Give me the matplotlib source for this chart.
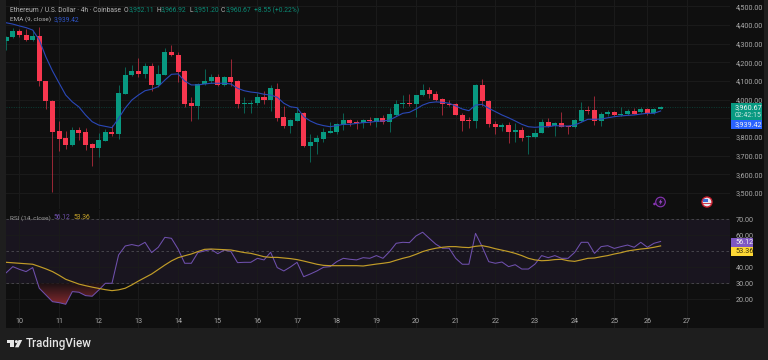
import numpy as np
import matplotlib
matplotlib.use("Agg")
import matplotlib.pyplot as plt
from matplotlib.patches import Rectangle, Circle, Polygon, PathPatch
from matplotlib.colors import LinearSegmentedColormap

opens = [4313,4337,4368,4346,4320,4341,4100,3993,3832,3795,3757,3838,3825,3761,3743,3780,3827,3816,4032,4132,
         4154,4138,4180,4079,4134,4254,4239,4154,3981,3968,4084,4100,4122,4079,4122,4100,3977,3977,3981,4014,
         3998,4059,3907,3861,3887,3930,3750,3775,3791,3822,3827,3864,3891,3880,3873,3891,3882,3902,3882,3918,
         3977,3984,3977,4023,4052,4032,4002,3978,3977,3920,3891,3886,4079,3991,3870,3854,3866,3825,3838,3802,
         3800,3822,3879,3859,3877,3859,3852,3886,3946,3945,3886,3922,3934,3918,3923,3938,3934,3950,3927,3952.11]
highs = [4341,4382,4381,4379,4373,4388,4100,3998,3886,3834,3855,3854,3848,3768,3822,3841,3864,4079,4177,4186,
         4222,4198,4197,4186,4275,4293,4257,4159,4013,4088,4163,4138,4138,4127,4216,4105,4013,3998,4034,4047,
         4079,4088,3966,3896,3959,3936,3816,3811,3848,3882,3877,3930,3895,3891,3895,3909,3902,3918,3954,3998,
         4025,4030,4027,4084,4066,4047,4007,3998,3981,3927,3906,4084,4111,3998,3887,3877,3879,3877,3852,3811,
         3845,3895,3903,3882,3934,3861,3895,3986,3966,4020,3936,3943,3939,3959,3948,3954,3959,3957,3957,3966.92]
lows = [4266,4330,4337,4316,4314,4073,3952,3507,3727,3734,3753,3784,3731,3646,3695,3779,3807,3791,4029,4127,
        4120,4116,4048,4066,4132,4234,4096,3959,3887,3896,4077,4089,4075,4073,4073,3955,3930,3929,3971,3975,
        3939,3887,3850,3823,3884,3748,3668,3709,3773,3820,3816,3838,3859,3845,3848,3863,3852,3871,3827,3914,
        3954,3966,3906,4021,4009,3995,3920,3968,3916,3834,3848,3848,3966,3855,3818,3832,3770,3775,3780,3707,
        3793,3820,3855,3807,3852,3816,3847,3882,3923,3864,3861,3914,3913,3914,3920,3923,3930,3918,3923,3951.20]
closes = [4337,4368,4345,4320,4341,4100,3993,3828,3789,3757,3838,3821,3757,3743,3784,3827,3816,4034,4132,4154,
          4138,4180,4079,4138,4254,4239,4150,3977,3968,4084,4100,4123,4079,4122,4096,3977,3984,3984,4014,3998,
          4063,3903,3861,3891,3930,3750,3775,3795,3827,3832,3870,3890,3877,3873,3891,3886,3902,3882,3922,3977,
          3984,3977,4025,4052,4030,3998,3975,3973,3920,3886,3884,4079,3991,3870,3854,3864,3825,3838,3796,3805,
          3823,3879,3859,3877,3852,3854,3890,3945,3941,3886,3923,3934,3918,3925,3938,3925,3950,3927,3948,3960.67]
ema = [4412,4405,4395,4386,4373,4320,4229,4154,4089,4025,3988,3961,3918,3882,3864,3857,3850,3900,3955,3998,
       4025,4048,4056,4070,4105,4136,4138,4100,4079,4079,4084,4088,4088,4088,4084,4061,4048,4041,4037,4029,
       4025,4013,3981,3962,3957,3909,3886,3870,3861,3855,3861,3868,3868,3873,3877,3879,3884,3886,3891,3909,
       3927,3932,3950,3971,3984,3988,3986,3981,3966,3950,3941,3971,3975,3954,3936,3918,3903,3886,3868,3855,
       3852,3855,3855,3861,3859,3859,3864,3879,3895,3895,3896,3903,3909,3913,3916,3918,3923,3927,3927,3939.42]
rsi = [36.6,40.4,38.7,37.3,39.8,26.9,22.7,18.5,17.9,16.9,24.8,24.4,22.3,21.9,25.8,30.0,30.0,47.7,53.3,54.2,
       53.3,55.6,49.2,52.5,58.7,58.1,51.4,42.5,42.5,49.2,50.2,51.2,48.5,50.8,49.8,42.9,43.1,43.1,45.6,44.6,
       49.4,39.8,37.7,40.2,43.1,34.1,35.8,37.7,40.0,40.4,43.5,45.6,45.0,44.6,46.0,45.6,47.3,45.6,49.8,55.0,
       55.6,55.4,59.6,61.9,58.1,54.4,51.9,51.9,45.6,41.9,41.9,61.2,52.9,43.5,42.5,43.3,40.4,41.6,38.9,38.9,
       42.0,47.3,46.0,47.3,45.6,45.6,49.3,55.6,55.6,48.7,52.9,53.5,51.8,52.9,53.9,52.5,55.6,52.5,55.0,56.12]
rsi_ma = [43.1,42.8,42.5,42.2,41.9,40.5,39.0,37.3,35.0,32.5,31.0,29.5,28.5,27.6,26.8,26.0,25.4,25.9,26.9,29.0,
          31.4,33.6,35.8,38.6,41.4,44.0,46.0,47.2,48.3,49.8,51.2,51.4,51.2,51.0,50.8,50.0,49.2,48.7,47.7,46.6,
          46.2,46.2,45.8,45.4,44.8,43.9,42.9,41.9,41.2,41.0,41.0,41.0,41.0,41.0,40.8,41.4,42.0,42.5,43.1,44.4,
          45.6,46.6,48.1,49.8,51.0,51.9,52.5,52.9,52.9,52.5,52.3,53.1,53.5,52.7,51.6,50.7,49.8,48.7,47.3,45.6,
          44.6,44.1,44.3,44.8,45.0,44.1,43.7,44.6,45.6,45.8,46.6,47.3,48.3,49.1,50.2,50.8,51.4,51.8,52.5,53.36]

day_labels = ["10","11","12","13","14","15","16","17","18","19","20","21","22","23","24","25","26","27"]
day_index = [2,8,14,20,26,32,38,44,50,56,62,68,74,80,86,92,97,103]
price_ticks = [3500,3600,3700,3800,3900,4000,4100,4200,4300,4400,4500]
rsi_ticks = [20,30,40,60,70]

GREEN = "#089981"
RED = "#f7374f"
BG = "#0f0f0f"
GRID = "#1b1b1b"
LABEL = "#a9a9a9"
W, H = 768, 360

plt.rcParams["font.family"] = ["Roboto", "DejaVu Sans"]


def px_axes(fig, left, top, right, bottom):
    return fig.add_axes([left / W, 1 - bottom / H, (right - left) / W, (bottom - top) / H])


fig = plt.figure(figsize=(W / 100, H / 100), dpi=100, facecolor="#1e1e1e")

back = px_axes(fig, 6, 0, 764, 328)
back.set_facecolor(BG)
back.set_xticks([])
back.set_yticks([])
for s in back.spines.values():
    s.set_visible(False)

ax = px_axes(fig, 5.7, 0, 730, 208.5)
ax2 = px_axes(fig, 5.7, 209.5, 730, 328)
for a in (ax, ax2):
    a.set_facecolor("none")
    a.set_xlim(-0.08, 109.5)
    a.yaxis.tick_right()
    a.set_xticks(day_index)
    a.grid(True, color=GRID, lw=0.7)
    a.set_axisbelow(True)
    for s in a.spines.values():
        s.set_visible(False)

# candles
x = np.arange(len(opens))
o, h, l, c = map(np.array, (opens, highs, lows, closes))
colors = [GREEN if cc >= oo else RED for oo, cc in zip(o, c)]
ax.vlines(x, l, h, colors=colors, lw=0.7, alpha=0.6, zorder=2)
ax.bar(x, np.abs(c - o), bottom=np.minimum(o, c), width=0.76, color=colors, lw=0, zorder=3)
ax.plot(x, ema, color="#2a48b8", lw=0.8, zorder=4)
ax.axhline(closes[-1], color=GREEN, lw=0.5, ls=(0, (1.5, 2)), alpha=0.45, zorder=1)
ax.set_ylim(3417, 4534)
ax.set_yticks(price_ticks)
# 3,900 sits behind the price tags in the reference
ax.set_yticklabels(["" if p == 3900 else f"{p:,.2f}" for p in price_ticks])
ax.set_xticklabels([])
ax.tick_params(axis="both", length=0, labelsize=5.2, labelcolor=LABEL, pad=4)

# rsi panel
ax2.axhspan(30, 70, color="#19151f", lw=0, zorder=0)
for lvl in (70, 50, 30):
    ax2.axhline(lvl, color="#4d4b52", lw=0.6, ls=(0, (3, 3)), zorder=1)
fill = ax2.fill_between(x, rsi, 30, where=np.array(rsi) <= 30, interpolate=True, color="none")
grad = LinearSegmentedColormap.from_list("ob", ["#171012", "#8a2b30"])
img = ax2.imshow(np.linspace(0, 1, 64).reshape(-1, 1), extent=(0, 20, 15.5, 30), origin="upper",
                 aspect="auto", cmap=grad, zorder=1.5)
clip = PathPatch(fill.get_paths()[0], transform=ax2.transData, fc="none", ec="none")
ax2.add_patch(clip)
img.set_clip_path(clip)
ax2.plot(x, rsi, color="#6f50ad", lw=0.75, zorder=3)
ax2.plot(x, rsi_ma, color="#c29d28", lw=0.85, zorder=3)
ax2.set_xlim(-0.08, 109.5)
ax2.set_ylim(2.06, 76.1)
ax2.set_yticks(rsi_ticks)
ax2.set_yticklabels([f"{v:.2f}" for v in rsi_ticks])
ax2.set_xticklabels(day_labels)
ax2.tick_params(axis="y", length=0, labelsize=5.2, labelcolor=LABEL, pad=4)
ax2.tick_params(axis="x", length=0, labelsize=5.2, labelcolor=LABEL, pad=-7)

# overlay in pixel coordinates for tags, legends and logo
ov = fig.add_axes([0, 0, 1, 1], zorder=10)
ov.set_xlim(0, W)
ov.set_ylim(H, 0)
ov.axis("off")


def tag(left, top, right, bottom, color):
    ov.add_patch(Rectangle((left, top), right - left, bottom - top, fc=color, lw=0))


def label(px, py, s, color=LABEL, size=4.9, **kw):
    ov.text(px, py, s, color=color, fontsize=size, va="center", **kw)


tag(731, 103.3, 762, 120, GREEN)
tag(731, 120, 762, 129, "#2962ff")
tag(731, 238.3, 753, 246.7, "#7e57c2")
tag(731, 246.7, 753, 255.7, "#fdd835")
label(735, 107.6, "3,960.67", "#f0f0f0", 5.2)
label(735, 115.2, "02:42:15", "#c6e6df", 5.0)
label(735, 124.6, "3,939.42", "#f0f0f0", 5.2)
label(735, 242.5, "56.12", "#f0f0f0", 5.2)
label(735, 251.2, "53.36", "#3a3208", 5.2)

label(9.7, 10, "Ethereum / U.S. Dollar · 4h · Coinbase", "#b4b4b4")
for px, name, val in [(124, "O", "3,952.11"), (156.5, "H", "3,966.92"),
                      (189, "L", "3,951.20"), (221, "C", "3,960.67")]:
    label(px, 10, name, "#b4b4b4")
    label(px + 4.5, 10, val, "#0b8a75")
label(254, 10, "+8.55 (+0.22%)", "#0b8a75")
label(9.7, 19.5, "EMA (9, close)", "#b4b4b4", 4.6)
label(54, 19.5, "3,939.42", "#2f55c8")
label(9.7, 217.7, "RSI (14, close)", "#9a9a9a", 4.6)
label(54, 217.7, "56.12", "#6f50ad")
label(74, 217.7, "53.36", "#c9a52a")

# event icons
ov.add_patch(Circle((660.5, 202), 4.8, fc="#1a1024", ec="#8a35b5", lw=0.8))
ov.add_patch(Circle((654.5, 204), 1.3, fc="#8a35b5", lw=0))
ov.add_patch(Polygon([(661.5, 198.5), (658.8, 202.5), (660.5, 202.5), (659.5, 205.5), (662.4, 201.3), (660.7, 201.3)],
                     fc="#a24bd0", lw=0))
ov.add_patch(Circle((707, 202), 5, fc="#e8e8f0", ec="#c8202f", lw=1.0))
ov.add_patch(Rectangle((703, 198.5), 4.5, 3, fc="#3d6fd0", lw=0))
ov.add_patch(Rectangle((703, 203), 8, 0.9, fc="#d04050", lw=0))

# logo
logo = "#e6e6e6"
ov.add_patch(Polygon([(6.7, 340), (14.2, 340), (14.2, 347.3), (10.2, 347.3), (10.2, 343.2), (6.7, 343.2)], fc=logo, lw=0))
ov.add_patch(Circle((16.4, 341.6), 1.5, fc=logo, lw=0))
ov.add_patch(Polygon([(18.6, 340), (22.2, 340), (18.6, 347.3), (15, 347.3)], fc=logo, lw=0))
ov.text(26, 344, "TradingView", color="#e6e6e6", fontsize=8.4, va="center", fontweight="medium")

fig.savefig("out.png", dpi=100, facecolor=fig.get_facecolor())
